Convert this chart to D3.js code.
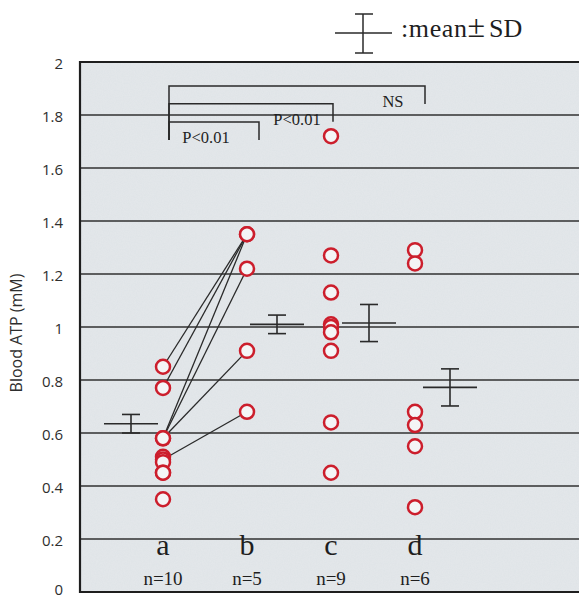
<!DOCTYPE html>
<html>
<head>
<meta charset="utf-8">
<script src="https://cdn.jsdelivr.net/npm/d3@7"></script>
<style>
  html, body { margin: 0; padding: 0; background: #ffffff; }
  svg { display: block; }
</style>
</head>
<body>
<svg id="chart" width="579" height="599"></svg>
<script>
// Groups and their sample sizes
const groups = ["a", "b", "c", "d"];
const groupN = ["n=10", "n=5", "n=9", "n=6"];

// Individual blood ATP values (mM) per group
const valuesA = [0.85, 0.77, 0.58, 0.58, 0.51, 0.50, 0.49, 0.45, 0.45, 0.35];
const valuesB = [1.35, 1.35, 1.22, 0.91, 0.68];
const valuesC = [1.72, 1.27, 1.13, 1.01, 1.00, 0.98, 0.91, 0.64, 0.45];
const valuesD = [1.29, 1.24, 0.68, 0.63, 0.55, 0.32];

// Paired measurements joined between group a and group b
const pairsAB = [[0.85, 1.35], [0.77, 1.35], [0.58, 1.35], [0.58, 1.22], [0.58, 0.91], [0.50, 0.68]];

// Group mean and SD
const means = [0.635, 1.01, 1.015, 0.772];
const sds = [0.035, 0.035, 0.07, 0.07];

// Y axis ticks
const yTicks = [0, 0.2, 0.4, 0.6, 0.8, 1, 1.2, 1.4, 1.6, 1.8, 2];

// Comparisons against group a
const compTargets = ["b", "c", "d"];
const compLevels = [1.774, 1.842, 1.909];
const compLabels = ["P<0.01", "P<0.01", "NS"];

const svg = d3.select("#chart");
const plotL = 80, plotT = 62, plotB = 592, plotR = 600;

const y = d3.scaleLinear().domain([0, 2]).range([plotB, plotT]);
const x = d3.scalePoint().domain(groups).range([163, 415]);

// subtle paper grain for the plot background
const defs = svg.append("defs");
const f = defs.append("filter").attr("id", "grain").attr("x", 0).attr("y", 0).attr("width", 1).attr("height", 1);
f.append("feTurbulence").attr("type", "fractalNoise").attr("baseFrequency", 0.85).attr("numOctaves", 2).attr("seed", 4).attr("result", "n");
f.append("feColorMatrix").attr("in", "n").attr("type", "matrix")
  .attr("values", "0 0 0 0 0.6  0 0 0 0 0.63  0 0 0 0 0.67  0 0 0 0.22 0").attr("result", "g");
f.append("feComposite").attr("in", "g").attr("in2", "SourceGraphic").attr("operator", "in").attr("result", "gc");
f.append("feMerge").selectAll("feMergeNode").data(["SourceGraphic", "gc"]).join("feMergeNode").attr("in", d => d);

svg.append("rect")
  .attr("x", plotL).attr("y", plotT)
  .attr("width", plotR - plotL).attr("height", plotB - plotT)
  .attr("fill", "#e4e8eb")
  .attr("filter", "url(#grain)");

// horizontal grid lines
svg.append("g").selectAll("line")
  .data(yTicks.filter(v => v > 0 && v < 2))
  .join("line")
  .attr("x1", plotL).attr("x2", plotR)
  .attr("y1", d => y(d)).attr("y2", d => y(d))
  .attr("stroke", "#303030").attr("stroke-width", 1.7);

// frame
svg.append("path")
  .attr("d", `M${plotR},${plotT}H${plotL}V${plotB}H${plotR}`)
  .attr("fill", "none").attr("stroke", "#1e1e1e").attr("stroke-width", 2.2);

// y axis labels
const yAxis = d3.axisLeft(y).tickValues(yTicks).tickSize(0).tickPadding(17).tickFormat(d3.format(".1~f"));
const yg = svg.append("g").attr("transform", `translate(${plotL},0)`).call(yAxis);
yg.select(".domain").remove();
yg.selectAll("text")
  .attr("font-family", "'Open Sans', sans-serif")
  .attr("font-size", 15)
  .attr("fill", "#2e2e2e")
  .attr("dy", d => d === 0 ? "0.15em" : "0.45em");

svg.append("text")
  .attr("transform", `translate(22,${(plotT + plotB) / 2 + 6}) rotate(-90)`)
  .attr("text-anchor", "middle")
  .attr("font-family", "'Open Sans', sans-serif")
  .attr("font-size", 16)
  .attr("fill", "#2e2e2e")
  .text("Blood ATP (mM)");

// group letters and n
const serif = "'Liberation Serif', 'Times New Roman', serif";
svg.append("g").selectAll("text")
  .data(groups).join("text")
  .attr("x", d => x(d)).attr("y", 555)
  .attr("text-anchor", "middle")
  .attr("font-family", serif).attr("font-size", 30).attr("fill", "#1e1e1e")
  .text(d => d);
svg.append("g").selectAll("text")
  .data(groups).join("text")
  .attr("x", d => x(d)).attr("y", 585)
  .attr("text-anchor", "middle")
  .attr("font-family", serif).attr("font-size", 19).attr("fill", "#1e1e1e")
  .text((d, i) => groupN[i]);

// paired lines a -> b
svg.append("g").selectAll("line")
  .data(pairsAB).join("line")
  .attr("x1", x("a")).attr("y1", d => y(d[0]))
  .attr("x2", x("b")).attr("y2", d => y(d[1]))
  .attr("stroke", "#2a2a2a").attr("stroke-width", 1.3);

// mean ± SD markers
const barShift = [-32, 30, 38, 35];
const mg = svg.append("g").attr("stroke", "#2a2a2a").attr("stroke-width", 1.6).attr("fill", "none");
groups.forEach((g, i) => {
  const cx = x(g) + barShift[i];
  const m = y(means[i]), hi = y(means[i] + sds[i]), lo = y(means[i] - sds[i]);
  mg.append("line").attr("x1", cx - 27).attr("x2", cx + 27).attr("y1", m).attr("y2", m);
  mg.append("line").attr("x1", cx).attr("x2", cx).attr("y1", hi).attr("y2", lo);
  mg.append("line").attr("x1", cx - 9).attr("x2", cx + 9).attr("y1", hi).attr("y2", hi);
  mg.append("line").attr("x1", cx - 9).attr("x2", cx + 9).attr("y1", lo).attr("y2", lo);
});

// individual points
const allValues = [valuesA, valuesB, valuesC, valuesD];
const pts = groups.flatMap((g, i) => allValues[i].map(v => ({ g, v })));
svg.append("g").selectAll("circle")
  .data(pts).join("circle")
  .attr("cx", d => x(d.g)).attr("cy", d => y(d.v))
  .attr("r", 7)
  .attr("fill", "#f4f5f6")
  .attr("stroke", "#cc1e2c").attr("stroke-width", 2.5);

// significance brackets
const rightShift = [12, 2, 10];
const labelShift = [-53, -36, -32];
const bx0 = x("a") + 6;
const bg = svg.append("g");
compTargets.forEach((t, i) => {
  const ly = y(compLevels[i]);
  const rx = x(t) + rightShift[i];
  bg.append("path")
    .attr("d", `M${bx0},${y(compLevels[0]) + 18}V${ly}H${rx}V${ly + 18}`)
    .attr("fill", "none").attr("stroke", "#2a2a2a").attr("stroke-width", 1.5);
  bg.append("text")
    .attr("x", rx + labelShift[i]).attr("y", ly + 21)
    .attr("text-anchor", "middle")
    .attr("font-family", serif).attr("font-size", 16.5).attr("fill", "#1e1e1e")
    .text(compLabels[i]);
});

// legend
const lg = svg.append("g").attr("stroke", "#2a2a2a").attr("stroke-width", 1.5);
lg.append("line").attr("x1", 335).attr("x2", 392).attr("y1", 33).attr("y2", 33);
lg.append("line").attr("x1", 363).attr("x2", 363).attr("y1", 14).attr("y2", 53);
lg.append("line").attr("x1", 355).attr("x2", 373).attr("y1", 14).attr("y2", 14);
lg.append("line").attr("x1", 355).attr("x2", 373).attr("y1", 53).attr("y2", 53);
const lt = svg.append("text")
  .attr("x", 401).attr("y", 37)
  .attr("font-family", serif).attr("font-size", 26).attr("fill", "#1e1e1e");
lt.append("tspan").attr("letter-spacing", 0.6).text(":mean");
lt.append("tspan").attr("font-size", 32).attr("dx", 0).text("±");
lt.append("tspan").attr("dx", 4).text("SD");
</script>
</body>
</html>
